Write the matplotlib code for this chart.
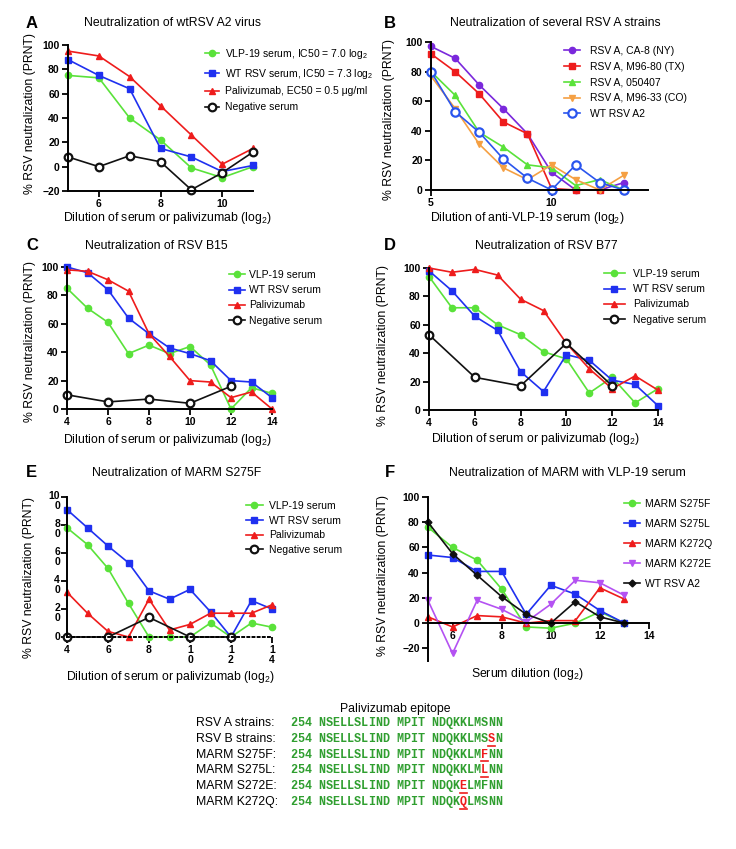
import matplotlib
matplotlib.use('Agg')
import matplotlib.pyplot as plt
from matplotlib.lines import Line2D

W, H = 736, 849
plt.rcParams['font.family'] = ['Liberation Sans', 'DejaVu Sans']
plt.rcParams['mathtext.default'] = 'regular'

GREEN = '#5ae23a'
BLUE = '#1f30f0'
RED = '#ee1c1c'
BLACK = '#111111'
PURPLE = '#7a28dc'
ORANGE = '#f5a043'
VIOLET = '#b452f2'
SEQ_GREEN = '#2f9e2f'

# ---- data ----
a_x = [5, 6, 7, 8, 9, 10, 11]
a_vlp = [75, 73, 40, 22, -1, -9, 0]
a_wt = [88, 75, 64, 15, 8, -4, 1]
a_pali = [95, 91, 74, 50, 26, 2, 15]
a_neg = [8, 0, 9, 4, -19, -5, 12]

b_x = [5, 6, 7, 8, 9, 10, 11, 12, 13]
b_ca8 = [97, 89, 71, 55, 38, 12, 0, 0, 5]
b_m9680 = [92, 80, 65, 46, 38, 1, 0, 0, 0]
b_050407 = [80, 64, 39, 29, 17, 15, 3, 7, 0]
b_m9633 = [77, 55, 31, 15, 7, 17, 7, 0, 10]
b_wt = [80, 53, 39, 21, 8, 0, 17, 5, 0]

c_x = [4, 5, 6, 7, 8, 9, 10, 11, 12, 13, 14]
c_vlp = [85, 71, 61, 39, 45, 39, 44, 31, 0, 15, 11]
c_wt = [100, 96, 84, 64, 53, 43, 39, 34, 20, 19, 8]
c_pali = [98, 97, 91, 83, 53, 37, 20, 19, 8, 12, 0]
neg_x = [4, 6, 8, 10, 12]
c_neg = [10, 5, 7, 4, 16]

d_vlp = [94, 72, 72, 60, 53, 41, 36, 12, 23, 5, 15]
d_wt = [98, 84, 66, 56, 27, 13, 39, 35, 21, 18, 3]
d_pali = [100, 97, 99, 95, 78, 70, 47, 29, 15, 24, 14]
d_neg = [53, 23, 17, 47, 17]

e_vlp = [78, 66, 49, 24, 0, 0, 0, 10, 0, 10, 7]
e_wt = [91, 78, 65, 53, 33, 27, 34, 18, 0, 26, 20]
e_pali = [32, 17, 4, 0, 27, 5, 9, 17, 17, 17, 23]
e_neg = [0, 0, 14, 0, 0]

f_x = [5, 6, 7, 8, 9, 10, 11, 12, 13]
f_s275f = [76, 60, 50, 27, -3, -4, 0, 9, 0]
f_s275l = [54, 52, 41, 41, 7, 30, 23, 10, 0]
f_k272q = [5, -3, 6, 5, 0, 2, 2, 28, 19]
f_k272e = [18, -24, 18, 11, 1, 15, 34, 32, 22]
f_wt = [80, 55, 38, 21, 7, 0, 17, 5, 0]

ep_labels = ['RSV A strains:', 'RSV B strains:', 'MARM S275F:', 'MARM S275L:',
             'MARM S272E:', 'MARM K272Q:']
ep_seqs = ['254 NSELLSLIND MPIT NDQKKLMSNN',
           '254 NSELLSLIND MPIT NDQKKLMSSN',
           '254 NSELLSLIND MPIT NDQKKLMFNN',
           '254 NSELLSLIND MPIT NDQKKLMLNN',
           '254 NSELLSLIND MPIT NDQKELMFNN',
           '254 NSELLSLIND MPIT NDQKQLMSNN']
ep_mut = [None, 28, 27, 27, 24, 24]

fig = plt.figure(figsize=(W / 100, H / 100), dpi=100)


def fx(x):
    return x / W


def fy(y):
    return 1 - y / H


def make_ax(l, t, r, b):
    ax = fig.add_axes([fx(l), fy(b), (r - l) / W, (b - t) / H])
    for s in ['top', 'right']:
        ax.spines[s].set_visible(False)
    for s in ['left', 'bottom']:
        ax.spines[s].set_linewidth(1.4)
    ax.tick_params(direction='out', length=4, width=1.3, labelsize=7.5, pad=2)
    return ax


def series(ax, x, y, color, marker, label, ms=5, open_=False, lw=1.2):
    kw = dict(color=color, marker=marker, ms=ms, lw=lw, label=label, clip_on=False)
    if open_:
        kw.update(mfc='white', mec=color, mew=1.6)
    ax.plot(x, y, **kw)


def bold_ticks(ax):
    for lab in ax.get_xticklabels() + ax.get_yticklabels():
        lab.set_fontweight('bold')


def legend(ax, left, top, step_sp, hl=1.4, htp=0.7):
    ax.legend(loc='upper left', bbox_to_anchor=(fx(left), fy(top)),
              bbox_transform=fig.transFigure, frameon=False, fontsize=7.5,
              borderpad=0, borderaxespad=0, handlelength=hl,
              handletextpad=htp, labelspacing=step_sp)


def head(letter, lx, title, tx, y):
    fig.text(fx(lx), fy(y), letter, fontsize=12, fontweight='bold',
             ha='center', va='center')
    fig.text(fx(tx), fy(y), title, fontsize=8.8, ha='center', va='center')


def xlab(text, x, y):
    fig.text(fx(x), fy(y), text, fontsize=8.8, ha='center', va='center')


def ylab(x, y):
    fig.text(fx(x), fy(y), '% RSV neutralization (PRNT)', fontsize=8.8,
             rotation=90, ha='center', va='center')


# ---- A ----
ax = make_ax(68, 45, 253, 191)
series(ax, a_x, a_vlp, GREEN, 'o', 'VLP-19 serum, IC50 = 7.0 log$_2$', ms=4.5)
series(ax, a_x, a_wt, BLUE, 's', 'WT RSV serum, IC50 = 7.3 log$_2$')
series(ax, a_x, a_pali, RED, '^', 'Palivizumab, EC50 = 0.5 μg/ml')
series(ax, a_x, a_neg, BLACK, 'o', 'Negative serum', ms=5.5, open_=True)
ax.set_xlim(5, 11)
ax.set_ylim(-20, 100)
ax.set_xticks([6, 8, 10])
ax.set_yticks([-20, 0, 20, 40, 60, 80, 100])
bold_ticks(ax)
legend(ax, 205, 47, 0.55, hl=1.3, htp=0.6)
head('A', 32, 'Neutralization of wtRSV A2 virus', 173, 23)
xlab('Dilution of serum or palivizumab (log$_2$)', 167, 218)
ylab(30, 113)

# ---- B ----
ax = make_ax(431, 42, 648, 190)
series(ax, b_x, b_ca8, PURPLE, 'o', 'RSV A, CA-8 (NY)', ms=4.5)
series(ax, b_x, b_m9680, RED, 's', 'RSV A, M96-80 (TX)')
series(ax, b_x, b_050407, GREEN, '^', 'RSV A, 050407')
series(ax, b_x, b_m9633, ORANGE, 'v', 'RSV A, M96-33 (CO)')
series(ax, b_x, b_wt, '#2a55ee', 'o', 'WT RSV A2', ms=6, open_=True)
ax.set_xlim(5, 14)
ax.set_ylim(0, 100)
ax.set_xticks([5, 10])
ax.set_yticks([0, 20, 40, 60, 80, 100])
bold_ticks(ax)
legend(ax, 564, 46, 0.55, hl=1.5, htp=1.0)
head('B', 390, 'Neutralization of several RSV A strains', 555, 23)
xlab('Dilution of anti-VLP-19 serum (log$_2$)', 527, 218)
ylab(389, 119)

# ---- C ----
ax = make_ax(67, 267, 272, 409)
series(ax, c_x, c_vlp, GREEN, 'o', 'VLP-19 serum', ms=4.5)
series(ax, c_x, c_wt, BLUE, 's', 'WT RSV serum')
series(ax, c_x, c_pali, RED, '^', 'Palivizumab')
series(ax, neg_x, c_neg, BLACK, 'o', 'Negative serum', ms=5.5, open_=True)
ax.set_xlim(4, 14)
ax.set_ylim(0, 100)
ax.set_xticks([4, 6, 8, 10, 12, 14])
ax.set_yticks([0, 20, 40, 60, 80, 100])
bold_ticks(ax)
legend(ax, 229, 270, 0.5, hl=1.5, htp=0.4)
head('C', 32, 'Neutralization of RSV B15', 156, 246)
xlab('Dilution of serum or palivizumab (log$_2$)', 167, 440)
ylab(30, 342)

# ---- D ----
ax = make_ax(429, 268, 658, 410)
series(ax, c_x, d_vlp, GREEN, 'o', 'VLP-19 serum', ms=4.5)
series(ax, c_x, d_wt, BLUE, 's', 'WT RSV serum')
series(ax, c_x, d_pali, RED, '^', 'Palivizumab')
series(ax, neg_x, d_neg, BLACK, 'o', 'Negative serum', ms=5.5, open_=True)
ax.set_xlim(4, 14)
ax.set_ylim(0, 100)
ax.set_xticks([4, 6, 8, 10, 12, 14])
ax.set_yticks([0, 20, 40, 60, 80, 100])
bold_ticks(ax)
legend(ax, 604, 269, 0.5, hl=2.0, htp=0.8)
head('D', 390, 'Neutralization of RSV B77', 546, 246)
xlab('Dilution of serum or palivizumab (log$_2$)', 535, 439)
ylab(383, 346)

# ---- E ----
ax = make_ax(67, 497, 272, 637)
series(ax, c_x, e_vlp, GREEN, 'o', 'VLP-19 serum', ms=4.5)
series(ax, c_x, e_wt, BLUE, 's', 'WT RSV serum')
series(ax, c_x, e_pali, RED, '^', 'Palivizumab')
series(ax, neg_x, e_neg, BLACK, 'o', 'Negative serum', ms=5.5, open_=True)
ax.set_xlim(4, 14)
ax.set_ylim(0, 100)
ax.spines['bottom'].set_linestyle(':')
ax.set_xticks([4, 6, 8, 10, 12, 14])
ax.set_xticklabels(['4', '6', '8', '1\n0', '1\n2', '1\n4'], linespacing=1.0)
ax.set_yticks([0, 20, 40, 60, 80, 100])
ax.set_yticklabels([])
for v, lab in zip([0, 20, 40, 60, 80, 100], ['0', '2\n0', '4\n0', '6\n0', '8\n0', '10\n0']):
    if v == 0:
        ax.annotate(lab, xy=(0, v), xycoords=('axes fraction', 'data'), xytext=(-5, 0),
                    textcoords='offset points', ha='right', va='center',
                    fontsize=7.5, fontweight='bold')
    else:
        ax.annotate(lab, xy=(0, v), xycoords=('axes fraction', 'data'), xytext=(-5, 4),
                    textcoords='offset points', ha='right', va='top',
                    fontsize=7.5, fontweight='bold', linespacing=1.0)
bold_ticks(ax)
legend(ax, 246, 501, 0.45, hl=1.6, htp=0.6)
head('E', 31, 'Neutralization of MARM S275F', 177, 473)
xlab('Dilution of serum or palivizumab (log$_2$)', 170, 677)
ylab(29, 577)

# ---- F ----
ax = make_ax(428, 497, 649, 661)
series(ax, f_x, f_s275f, GREEN, 'o', 'MARM S275F', ms=4.5)
series(ax, f_x, f_s275l, BLUE, 's', 'MARM S275L')
series(ax, f_x, f_k272q, RED, '^', 'MARM K272Q')
series(ax, f_x, f_k272e, VIOLET, 'v', 'MARM K272E')
series(ax, f_x, f_wt, BLACK, 'D', 'WT RSV A2', ms=3.5)
ax.set_xlim(5, 14)
ax.set_ylim(-30, 100)
ax.spines['bottom'].set_position(('data', 0))
ax.set_xticks([6, 8, 10, 12, 14])
ax.set_yticks([-20, 0, 20, 40, 60, 80, 100])
bold_ticks(ax)
legend(ax, 624, 499, 0.95, hl=1.5, htp=0.5)
head('F', 390, 'Neutralization of MARM with VLP-19 serum', 567, 473)
xlab('Serum dilution (log$_2$)', 527, 674)
ylab(383, 575)

# ---- epitope table ----
fig.text(fx(395), fy(709), 'Palivizumab epitope', fontsize=8.8, ha='center', va='center')
row_y = [723, 739, 754.5, 770, 786, 802]
x0, cw = 290, 7.07
for lab, seq, mut, y in zip(ep_labels, ep_seqs, ep_mut, row_y):
    fig.text(fx(196), fy(y), lab, fontsize=8.8, ha='left', va='center')
    for i, ch in enumerate(seq):
        if ch == ' ':
            continue
        col = RED if i == mut else SEQ_GREEN
        xc = x0 + (i + 0.5) * cw
        fig.text(fx(xc), fy(y), ch, family='Liberation Mono', fontweight='bold',
                 fontsize=8.5, color=col, ha='center', va='center')
        if i == mut:
            fig.add_artist(Line2D([fx(xc - 3.5), fx(xc + 3.5)], [fy(y + 6.5), fy(y + 6.5)],
                                  color=RED, lw=1.2, transform=fig.transFigure))

fig.savefig('out.png', dpi=100)
